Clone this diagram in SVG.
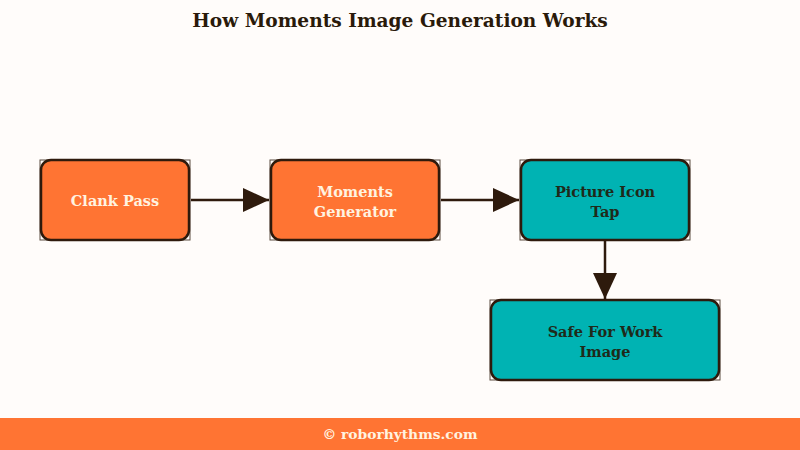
<svg xmlns="http://www.w3.org/2000/svg" width="800" height="450" viewBox="0 0 800 450">
<defs>
<style>
.t{font-family:"DejaVu Serif","Liberation Serif",serif;font-weight:bold;text-anchor:middle;dominant-baseline:central}
.box{stroke:#2e1a0c;stroke-width:2.5}
.bb{fill:none;stroke:#5a4a3e;stroke-width:1}
.or{fill:#ff7433}
.te{fill:#00b3b3}
.lo{fill:#fff3e0;font-size:14.5px}
.lt{fill:#1f2a1a;font-size:14.5px}
.edge{stroke:#2e1a0c;stroke-width:2.5;fill:none}
</style>
<marker id="a" viewBox="0 0 26 24" refX="26" refY="12" markerWidth="26" markerHeight="24" markerUnits="userSpaceOnUse" orient="auto">
<path d="M0,0 L26,12 L0,24 z" fill="#2e1a0c"/>
</marker>
</defs>
<rect width="800" height="450" fill="#fffcfa"/>
<text class="t" x="400" y="20" font-size="18.6" fill="#2a1a0a">How Moments Image Generation Works</text>
<g id="connectors">
<line class="edge" x1="191" y1="200" x2="269" y2="200" marker-end="url(#a)"/>
<line class="edge" x1="441" y1="200" x2="519" y2="200" marker-end="url(#a)"/>
<line class="edge" x1="605" y1="241" x2="605" y2="299" marker-end="url(#a)"/>
</g>
<g id="clank-pass">
<rect class="bb" x="40" y="160" width="150" height="80"/>
<rect class="box or" x="41" y="160" width="148" height="80" rx="10"/>
<text class="t lo" x="115" y="200">Clank Pass</text>
</g>
<g id="moments-generator">
<rect class="bb" x="270" y="160" width="170" height="80"/>
<rect class="box or" x="271" y="160" width="168" height="80" rx="10"/>
<text class="t lo" x="355" y="191">Moments</text>
<text class="t lo" x="355" y="211">Generator</text>
</g>
<g id="picture-icon-tap">
<rect class="bb" x="520" y="160" width="170" height="80"/>
<rect class="box te" x="521" y="160" width="168" height="80" rx="10"/>
<text class="t lt" x="605" y="191">Picture Icon</text>
<text class="t lt" x="605" y="211">Tap</text>
</g>
<g id="safe-for-work-image">
<rect class="bb" x="490" y="300" width="230" height="80"/>
<rect class="box te" x="491" y="300" width="228" height="80" rx="10"/>
<text class="t lt" x="605" y="331">Safe For Work</text>
<text class="t lt" x="605" y="351">Image</text>
</g>
<rect x="0" y="418" width="800" height="32" fill="#ff7433"/>
<text class="t" x="400" y="434" font-size="13.8" fill="#fff3e0">© roborhythms.com</text>
</svg>
